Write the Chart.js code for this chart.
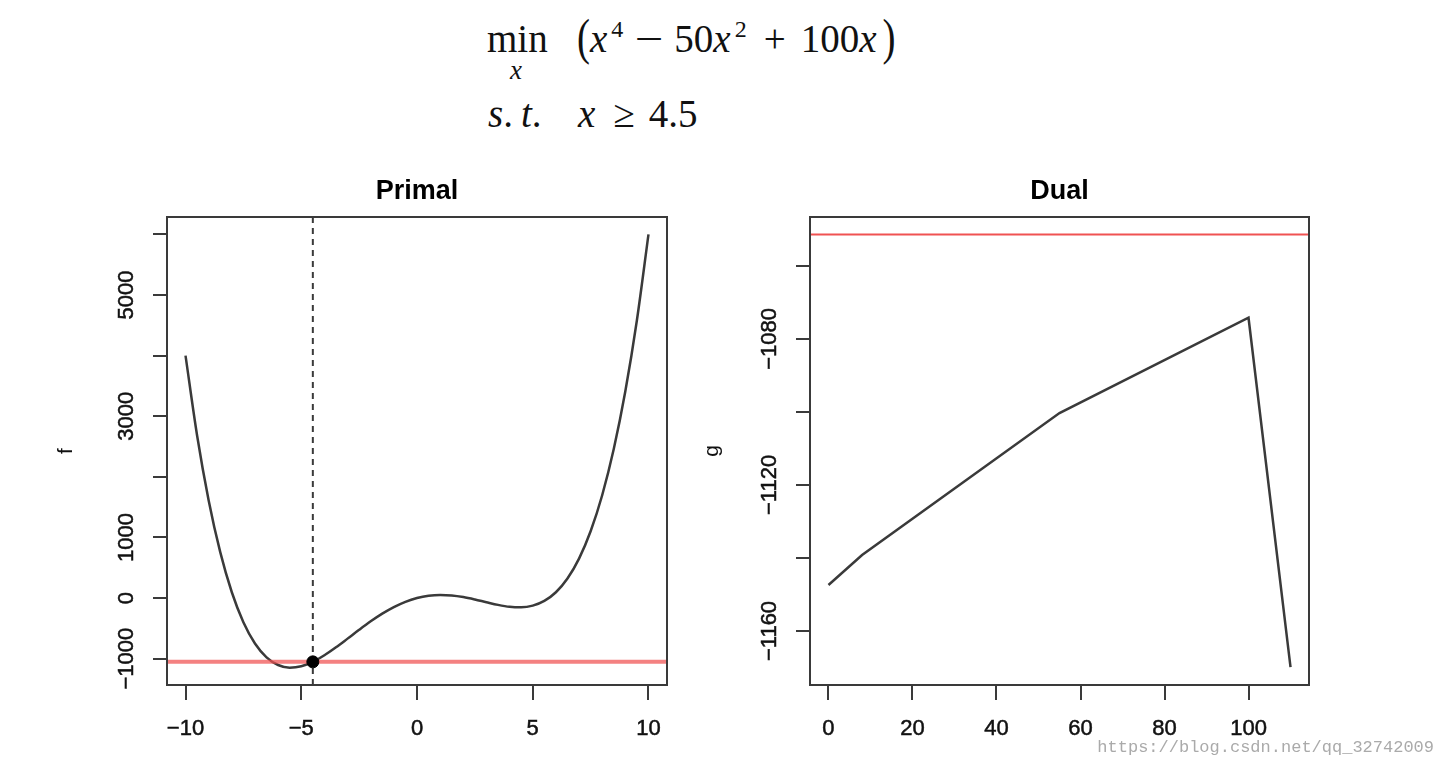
<!DOCTYPE html>
<html>
<head>
<meta charset="utf-8">
<script src="https://cdn.jsdelivr.net/npm/chart.js@4.4.1/dist/chart.umd.min.js"></script>
<style>
  html, body { margin: 0; padding: 0; background: #fff; }
  body { width: 1444px; height: 768px; position: relative; overflow: hidden; }
  canvas { position: absolute; top: 0; }
  #primal { left: 0; }
  #dual { left: 680px; }
  .tex { position: absolute; font-family: 'Liberation Serif', 'DejaVu Serif', serif; font-size: 39px; line-height: 39px; color: #111; white-space: nowrap; }
  .tex i.v { padding-right: 4px; }
  .tex sup { font-size: 24px; vertical-align: 15px; line-height: 0; }
  .tex .op { display: inline-block; margin: 0 14px 0 15px; }
  .tex .wide { transform: scaleX(1.3); }
  .tex .paren { display: inline-block; transform: scaleY(1.28); transform-origin: 50% 62%; }
  #url { position: absolute; right: 10px; top: 739px; font: 17px 'Liberation Mono', monospace; line-height: 17px; color: #aaa; }
</style>
</head>
<body>
<div class="tex" style="left:487px; top:19px">min</div>
<div class="tex" style="left:510px; top:57px; font-size:27px; line-height:27px"><i>x</i></div>
<div class="tex" style="left:577px; top:19px"><span class="paren">(</span><i class="v">x</i><sup>4</sup><span class="op wide">−</span>50<i class="v">x</i><sup>2</sup><span class="op" style="margin:0 15px 0 17px">+</span>100<i class="v">x</i><span class="paren" style="margin-left:2px">)</span></div>
<div class="tex" style="left:488px; top:94px"><i>s</i>.<i style="margin-left:8px">t</i>.</div>
<div class="tex" style="left:578px; top:94px"><i>x</i><span class="op" style="margin:0 14px 0 18px">≥</span>4.5</div>
<canvas id="primal" width="834" height="768"></canvas>
<canvas id="dual" width="759" height="768"></canvas>
<div id="url">https://blog.csdn.net/qq_32742009</div>
<script>
// 数据：原问题 f(x)
const primalX = [-10, -9.5, -9, -8.5, -8, -7.5, -7, -6.5, -6, -5.5, -5, -4.5, -4, -3.5, -3, -2.5, -2, -1.5, -1, -0.5,
  0, 0.5, 1, 1.5, 2, 2.5, 3, 3.5, 4, 4.5, 5, 5.5, 6, 6.5, 7, 7.5, 8, 8.5, 9, 9.5, 10];
const primalF = [4000, 2682.6, 1611, 757.6, 96, -398.4, -749, -977.4, -1104, -1147.4, -1125, -1052.4, -944, -812.4, -669, -523.4, -384, -257.4, -149, -62.4,
  0, 37.6, 51, 42.6, 16, -23.4, -69, -112.4, -144, -152.4, -125, -47.4, 96, 322.6, 651, 1101.6, 1696, 2457.6, 3411, 4582.6, 6000];
const primalXTicks = [-10, -5, 0, 5, 10];
const primalYTicks = [-1000, 0, 1000, 2000, 3000, 4000, 5000, 6000];
const primalYLabels = [-1000, 0, 1000, 3000, 5000];
const xStar = -4.5;
const fStar = -1052.4;

// 数据：对偶函数 g(lambda)
const dualLambda = [0, 8, 55, 100, 110];
const dualG = [-1147.4, -1139.2, -1100.3, -1074.2, -1169.9];
const dualXTicks = [0, 20, 40, 60, 80, 100];
const dualYTicks = [-1160, -1140, -1120, -1100, -1080, -1060];
const dualYLabels = [-1160, -1120, -1080];
const dualBest = -1051.4;

const FONT = "'Liberation Sans', Arial, sans-serif";
const AXIS = '#3a3a3a';
Chart.defaults.font.family = FONT;

// 负号用 U+2212
const fmt = v => (v < 0 ? '\u2212' + Math.abs(v) : String(v));
const pts = (xs, ys) => xs.map((x, i) => ({ x: x, y: ys[i] }));

// 画 R 风格的外框
const boxPlugin = {
  id: 'rbox',
  afterDraw(chart) {
    const { ctx, chartArea: a } = chart;
    ctx.save();
    ctx.strokeStyle = AXIS;
    ctx.lineWidth = 2;
    ctx.strokeRect(a.left, a.top, a.right - a.left, a.bottom - a.top);
    ctx.restore();
  }
};

function makeScales(o) {
  const tickFont = { family: FONT, size: 22 };
  return {
    x: {
      type: 'linear', min: o.xMin, max: o.xMax,
      afterBuildTicks: a => { a.ticks = o.xTicks.map(v => ({ value: v })); },
      afterFit: a => { a.height = 83; },
      grid: { drawOnChartArea: false, drawTicks: true, tickLength: 15, color: AXIS, lineWidth: 2 },
      border: { display: false },
      ticks: {
        font: tickFont, color: '#111', textStrokeColor: '#111', textStrokeWidth: 0.5,
        padding: 16, maxRotation: 0, autoSkip: false, callback: v => fmt(v)
      }
    },
    y: {
      type: 'linear', min: o.yMin, max: o.yMax,
      afterBuildTicks: a => { a.ticks = o.yTicks.map(v => ({ value: v })); },
      afterFit: a => { a.width = o.yWidth; },
      grid: { drawOnChartArea: false, drawTicks: true, tickLength: 14, color: AXIS, lineWidth: 2 },
      border: { display: false },
      ticks: {
        font: tickFont, color: '#111', textStrokeColor: '#111', textStrokeWidth: 0.5,
        padding: -4.5, minRotation: 90, maxRotation: 90, crossAlign: 'center', autoSkip: false,
        callback: v => (o.yLabels.includes(v) ? fmt(v) : '')
      },
      title: { display: true, text: o.yTitle, font: { family: FONT, size: 21 }, color: '#111', padding: { top: o.yTitlePad, bottom: 0 } }
    },
    xTop: {
      type: 'linear', position: 'top', min: 0, max: 1,
      afterFit: a => { a.height = 217; },
      grid: { display: false }, border: { display: false }, ticks: { display: false },
      title: { display: true, text: o.title, font: { family: FONT, size: 27, weight: 'bold' }, color: '#000', padding: { top: 175.5, bottom: 0 } }
    }
  };
}

const baseOptions = (scales, padRight) => ({
  responsive: false,
  animation: false,
  layout: { padding: { left: 0, right: padRight, top: 0, bottom: 0 } },
  plugins: { legend: { display: false }, tooltip: { enabled: false } },
  scales: scales
});

// 左图：Primal
const pXMin = -10.8, pXMax = 10.8, pYMin = -1434, pYMax = 6286;
new Chart(document.getElementById('primal').getContext('2d'), {
  type: 'line',
  data: {
    datasets: [
      { data: [{ x: xStar, y: fStar }], showLine: false, pointRadius: 6, pointBackgroundColor: '#000', pointBorderColor: '#000', order: 0 },
      { data: [{ x: pXMin, y: fStar }, { x: pXMax, y: fStar }], borderColor: 'rgba(240,80,80,0.72)', borderWidth: 4, pointRadius: 0, order: 1 },
      { data: [{ x: xStar, y: pYMin }, { x: xStar, y: pYMax }], borderColor: AXIS, borderWidth: 2, borderDash: [6, 5], pointRadius: 0, order: 2 },
      { data: pts(primalX, primalF), borderColor: AXIS, borderWidth: 2.5, pointRadius: 0, cubicInterpolationMode: 'monotone', order: 3 }
    ]
  },
  options: baseOptions(makeScales({
    xMin: pXMin, xMax: pXMax, yMin: pYMin, yMax: pYMax,
    xTicks: primalXTicks, yTicks: primalYTicks, yLabels: primalYLabels,
    yWidth: 167, yTitle: 'f', yTitlePad: 53.4, title: 'Primal'
  }), 167),
  plugins: [boxPlugin]
});

// 右图：Dual
const dXMin = -4.4, dXMax = 114.4, dYMin = -1174.8, dYMax = -1046.6;
new Chart(document.getElementById('dual').getContext('2d'), {
  type: 'line',
  data: {
    datasets: [
      { data: [{ x: dXMin, y: dualBest }, { x: dXMax, y: dualBest }], borderColor: '#f05252', borderWidth: 2.2, pointRadius: 0, order: 0 },
      { data: pts(dualLambda, dualG), borderColor: AXIS, borderWidth: 2.5, pointRadius: 0, tension: 0, order: 1 }
    ]
  },
  options: baseOptions(makeScales({
    xMin: dXMin, xMax: dXMax, yMin: dYMin, yMax: dYMax,
    xTicks: dualXTicks, yTicks: dualYTicks, yLabels: dualYLabels,
    yWidth: 130, yTitle: 'g', yTitlePad: 19.4, title: 'Dual'
  }), 130),
  plugins: [boxPlugin]
});
</script>
</body>
</html>
